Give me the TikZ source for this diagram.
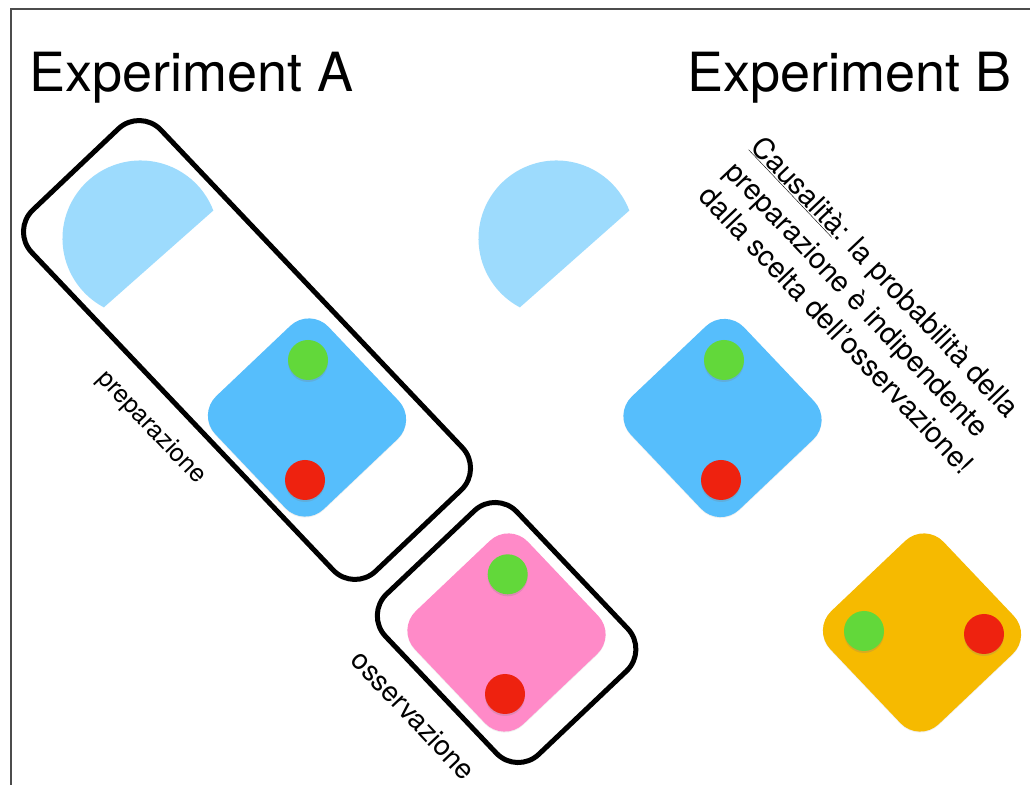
\documentclass[tikz,border=0pt]{standalone}
\usepackage{fontspec}
\setmainfont{TeX Gyre Heros}
\usetikzlibrary{shadows}

\definecolor{halfblue}{HTML}{9DDBFD}
\definecolor{tileblue}{HTML}{56BEFC}
\definecolor{dotgreen}{HTML}{62D83A}
\definecolor{dotred}{HTML}{EE220F}
\definecolor{tilepink}{HTML}{FF8AC8}
\definecolor{tileorange}{HTML}{F6BA00}

\tikzset{
  tile/.style={rectangle, rounded corners=27pt, minimum size=156pt, inner sep=0pt,
    rotate=-46.5, drop shadow={shadow xshift=0pt, shadow yshift=-1pt, opacity=0.12}},
  dot/.style={circle, minimum size=40pt, inner sep=0pt,
    drop shadow={shadow xshift=0pt, shadow yshift=-2pt, opacity=0.25}},
  groupbox/.style={draw=black, line width=5pt, rectangle, rounded corners=30pt,
    inner sep=0pt, rotate=-46.5},
  title/.style={font=\fontsize{54}{60}\selectfont, inner sep=0pt},
  tag/.style={rotate=-46.5, inner sep=0pt},
}

\begin{document}
\begin{tikzpicture}[x=1pt, y=1pt]
  \useasboundingbox (0,0) rectangle (1030,784);
  \fill[white] (0,0) rectangle (1030,784);

  % slide frame
  \draw[line width=1.5pt, draw=black!70] (11,-5) -- (11,775) -- (1035,775);

  % titles
  \node[title, anchor=base west] (expA) at (29,692.3) {Experiment A};
  \node[title, anchor=base east] (expB) at (1012,692.3) {Experiment B};

  % grouping boxes of experiment A
  \node[groupbox, minimum width=498pt, minimum height=178pt] (prep) at (247,434) {};
  \node[groupbox, minimum width=221pt, minimum height=181pt] (obs) at (506.6,151.5) {};

  % sources (circular segments)
  \fill[halfblue] (140.5,545.5) ++(21:78) arc[start angle=21, end angle=242, radius=78] -- cycle;
  \fill[halfblue] (556.5,545.5) ++(21:78) arc[start angle=21, end angle=242, radius=78] -- cycle;

  % tiles
  \node[tile, fill=tileblue] (prepA) at (307,366.5) {};
  \node[tile, fill=tileblue] (prepB) at (722.5,366) {};
  \node[tile, fill=tilepink] (measA) at (506.5,151.5) {};
  \node[tile, fill=tileorange] (measB) at (922,151.5) {};

  % outcome dots
  \node[dot, fill=dotgreen] (prepAg) at (308,424) {};
  \node[dot, fill=dotred]   (prepAr) at (305,304) {};
  \node[dot, fill=dotgreen] (prepBg) at (724,424) {};
  \node[dot, fill=dotred]   (prepBr) at (721,304) {};
  \node[dot, fill=dotgreen] (measAg) at (507.7,209.7) {};
  \node[dot, fill=dotred]   (measAr) at (505,90) {};
  \node[dot, fill=dotgreen] (measBg) at (864,153) {};
  \node[dot, fill=dotred]   (measBr) at (984,150) {};

  % labels
  \node[tag, font=\fontsize{25}{30}\selectfont] (prepLabel) at (151,356) {preparazione};
  \node[tag, font=\fontsize{28}{33}\selectfont] (obsLabel) at (413.3,69) {osservazione};

  \node[tag, anchor=north west, align=left, font=\fontsize{29}{36}\selectfont]
    (causal) at (765.7,650.8)
    {\underline{Causalità}: la probabilità della\\
     preparazione è indipendente\\
     dalla scelta dell’osservazione!};
\end{tikzpicture}
\end{document}
